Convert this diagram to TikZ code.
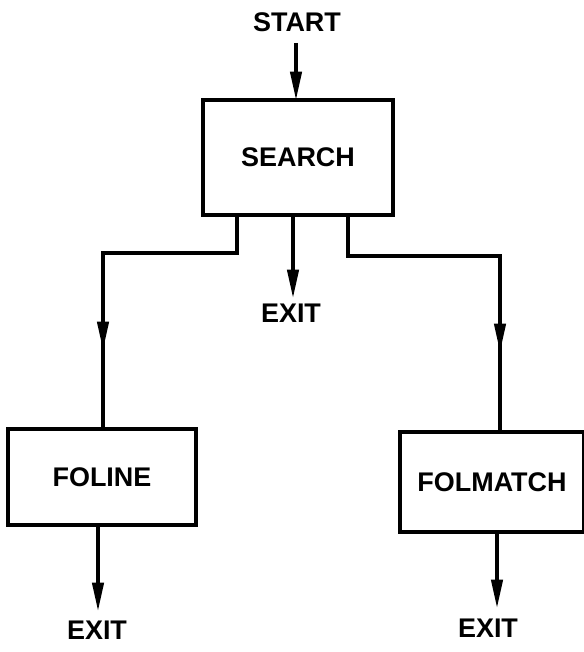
\documentclass[tikz,border=0pt]{standalone}
\usepackage{fontspec}
\setmainfont{Liberation Sans}
\usetikzlibrary{arrows.meta}
\begin{document}
\begin{tikzpicture}[x=0.03cm,y=-0.03cm,
  lbl/.style={font=\fontsize{23}{27}\selectfont\bfseries, inner sep=0pt},
  procbox/.style={draw, line width=2.8pt, rectangle, inner sep=0pt,
    font=\fontsize{23}{27}\selectfont\bfseries},
  conn/.style={line width=2.8pt},
  arr/.style={line width=2.8pt, -{Triangle[length=0.85cm,width=0.34cm]}}]
\useasboundingbox (0,0) rectangle (583,652);
% nodes
\node[lbl] (start) at (297,22) {START};
\node[procbox, minimum width=5.7cm, minimum height=3.45cm] (search) at (298,157.5) {SEARCH};
\node[lbl] (exitm) at (291,313) {EXIT};
\node[procbox, minimum width=5.64cm, minimum height=2.88cm] (foline) at (102,477) {FOLINE};
\node[lbl] (exitl) at (97,630) {EXIT};
\node[procbox, minimum width=5.52cm, minimum height=3cm] (folmatch) at (492,482) {FOLMATCH};
\node[lbl] (exitr) at (488,628) {EXIT};
% coordinates for branches
\coordinate (lb) at (237,215);
\coordinate (la) at (103,350);
\coordinate (lt) at (103,429);
\coordinate (rb) at (348,215);
\coordinate (ra) at (500,352);
\coordinate (rt) at (500,432);
\coordinate (fb) at (98,525);
\coordinate (mb) at (497,532);
% connectors
\draw[arr] (296,43) -- (296,100);
\draw[arr] (293,215) -- (293,298);
\draw[conn] (lb) |- (103,253) -- (lt);
\draw[arr] (103,300) -- (la);
\draw[conn] (rb) |- (500,256) -- (rt);
\draw[arr] (500,300) -- (ra);
\draw[arr] (fb) -- (98,611);
\draw[arr] (mb) -- (497,608);
\end{tikzpicture}
\end{document}
